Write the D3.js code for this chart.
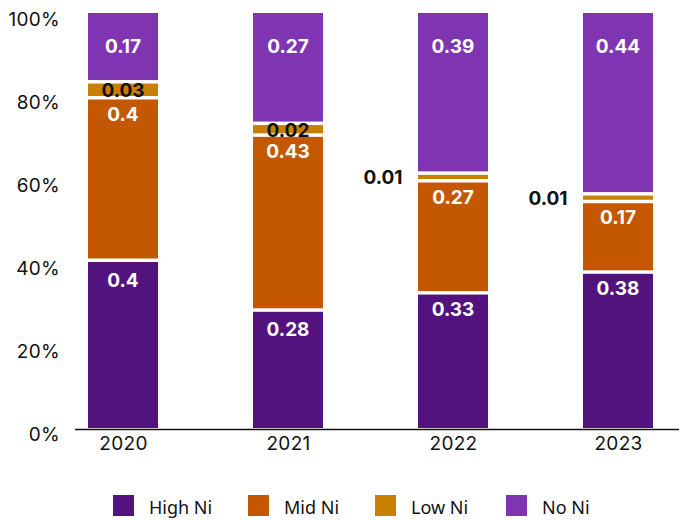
<!DOCTYPE html>
<html>
<head>
<meta charset="utf-8">
<script src="https://cdn.jsdelivr.net/npm/d3@7/dist/d3.min.js"></script>
<style>
  html, body { margin: 0; padding: 0; background: #fff; }
  svg { display: block; }
</style>
</head>
<body>
<svg id="chart" width="679" height="520"></svg>
<script>
// Battery cathode chemistry shares by year
const years = ["2020", "2021", "2022", "2023"];
const series = ["High Ni", "Mid Ni", "Low Ni", "No Ni"];
const highNi = [0.40, 0.28, 0.33, 0.38];
const midNi  = [0.40, 0.43, 0.27, 0.17];
const lowNi  = [0.03, 0.02, 0.01, 0.01];
const noNi   = [0.17, 0.27, 0.39, 0.44];
const yTicks = [0, 0.2, 0.4, 0.6, 0.8, 1.0];

const colors = {
  "High Ni": "#52137e",
  "Mid Ni":  "#c45800",
  "Low Ni":  "#c97f00",
  "No Ni":   "#7f35b2"
};

const rows = years.map((y, i) => ({
  year: y,
  "High Ni": highNi[i],
  "Mid Ni": midNi[i],
  "Low Ni": lowNi[i],
  "No Ni": noNi[i]
}));

const svg = d3.select("#chart");
const fontMain = "Inter, 'Noto Sans', sans-serif";

const x = d3.scalePoint().domain(years).range([123, 618]);
const barW = 70;
const y = d3.scaleLinear().domain([0, 1]).range([428, 13]);

const stacked = d3.stack().keys(series)(rows);

// Y axis: percentage labels only
const yAxis = svg.append("g")
  .attr("transform", "translate(60,0)")
  .call(d3.axisLeft(y).tickValues(yTicks).tickFormat(d3.format(".0%")).tickSize(0).tickPadding(0));
yAxis.select(".domain").remove();
yAxis.selectAll("text")
  .attr("dy", "0.35em")
  .attr("transform", "translate(0,6)")
  .style("font-family", fontMain)
  .style("font-size", "19px")
  .style("letter-spacing", "0.3px")
  .style("fill", "#111");

// Segments, separated by white gaps; each gap is cut from the larger neighbour
// so that thin segments stay visible.
const gap = 3.5;
function segBounds(layerIndex, d, i) {
  const v = d[1] - d[0];
  const above = layerIndex < stacked.length - 1 ? stacked[layerIndex + 1][i] : null;
  const below = layerIndex > 0 ? stacked[layerIndex - 1][i] : null;
  let top = y(d[1]), bot = y(d[0]);
  if (above && v > above[1] - above[0]) top += gap;
  if (below && v >= below[1] - below[0]) bot -= gap;
  return [top, bot];
}

const layers = svg.append("g").selectAll("g")
  .data(stacked)
  .join("g")
  .attr("fill", d => colors[d.key]);

layers.each(function(layer, li) {
  d3.select(this).selectAll("rect")
    .data(layer)
    .join("rect")
    .attr("x", d => x(d.data.year) - barW / 2)
    .attr("width", barW)
    .attr("y", (d, i) => segBounds(li, d, i)[0])
    .attr("height", (d, i) => {
      const b = segBounds(li, d, i);
      return Math.max(0, b[1] - b[0]);
    });
});

// X axis baseline and year labels
svg.append("line")
  .attr("x1", 75).attr("x2", 679)
  .attr("y1", 429.5).attr("y2", 429.5)
  .attr("stroke", "#111").attr("stroke-width", 1.5);

const xAxis = svg.append("g")
  .attr("transform", "translate(0,430)")
  .call(d3.axisBottom(x).tickSize(0).tickPadding(7));
xAxis.select(".domain").remove();
xAxis.selectAll("text")
  .style("font-family", fontMain)
  .style("font-size", "19px")
  .style("letter-spacing", "0.3px")
  .style("fill", "#111");

// Value labels
const labels = [];
stacked.forEach(layer => {
  layer.forEach(d => {
    const v = d[1] - d[0];
    const cx = x(d.data.year);
    const top = y(d[1]), bot = y(d[0]);
    let lx = cx, ly, fill = "#fff";
    if (layer.key === "No Ni") {
      ly = top + 33;
    } else if (layer.key === "Low Ni") {
      fill = "#111";
      ly = (top + bot) / 2 + 1;
      if (v < 0.015) { lx = cx - 70; }
    } else {
      ly = top + 18;
    }
    labels.push({ text: String(+v.toFixed(2)), x: lx, y: ly, fill });
  });
});

svg.append("g").selectAll("text")
  .data(labels)
  .join("text")
  .attr("x", d => d.x)
  .attr("y", d => d.y)
  .attr("text-anchor", "middle")
  .attr("dominant-baseline", "central")
  .style("font-family", fontMain)
  .style("font-weight", 700)
  .style("font-size", "19px")
  .style("fill", d => d.fill)
  .text(d => d.text);

// Legend
const legendX = [113, 248, 375, 506];
const legend = svg.append("g").selectAll("g")
  .data(series)
  .join("g")
  .attr("transform", (d, i) => `translate(${legendX[i]},495)`);
legend.append("rect")
  .attr("width", 21).attr("height", 21)
  .attr("fill", d => colors[d]);
legend.append("text")
  .attr("x", 36).attr("y", 19)
  .style("font-family", "'Noto Sans', sans-serif")
  .style("font-size", "18px")
  .style("fill", "#111")
  .text(d => d);
</script>
</body>
</html>
